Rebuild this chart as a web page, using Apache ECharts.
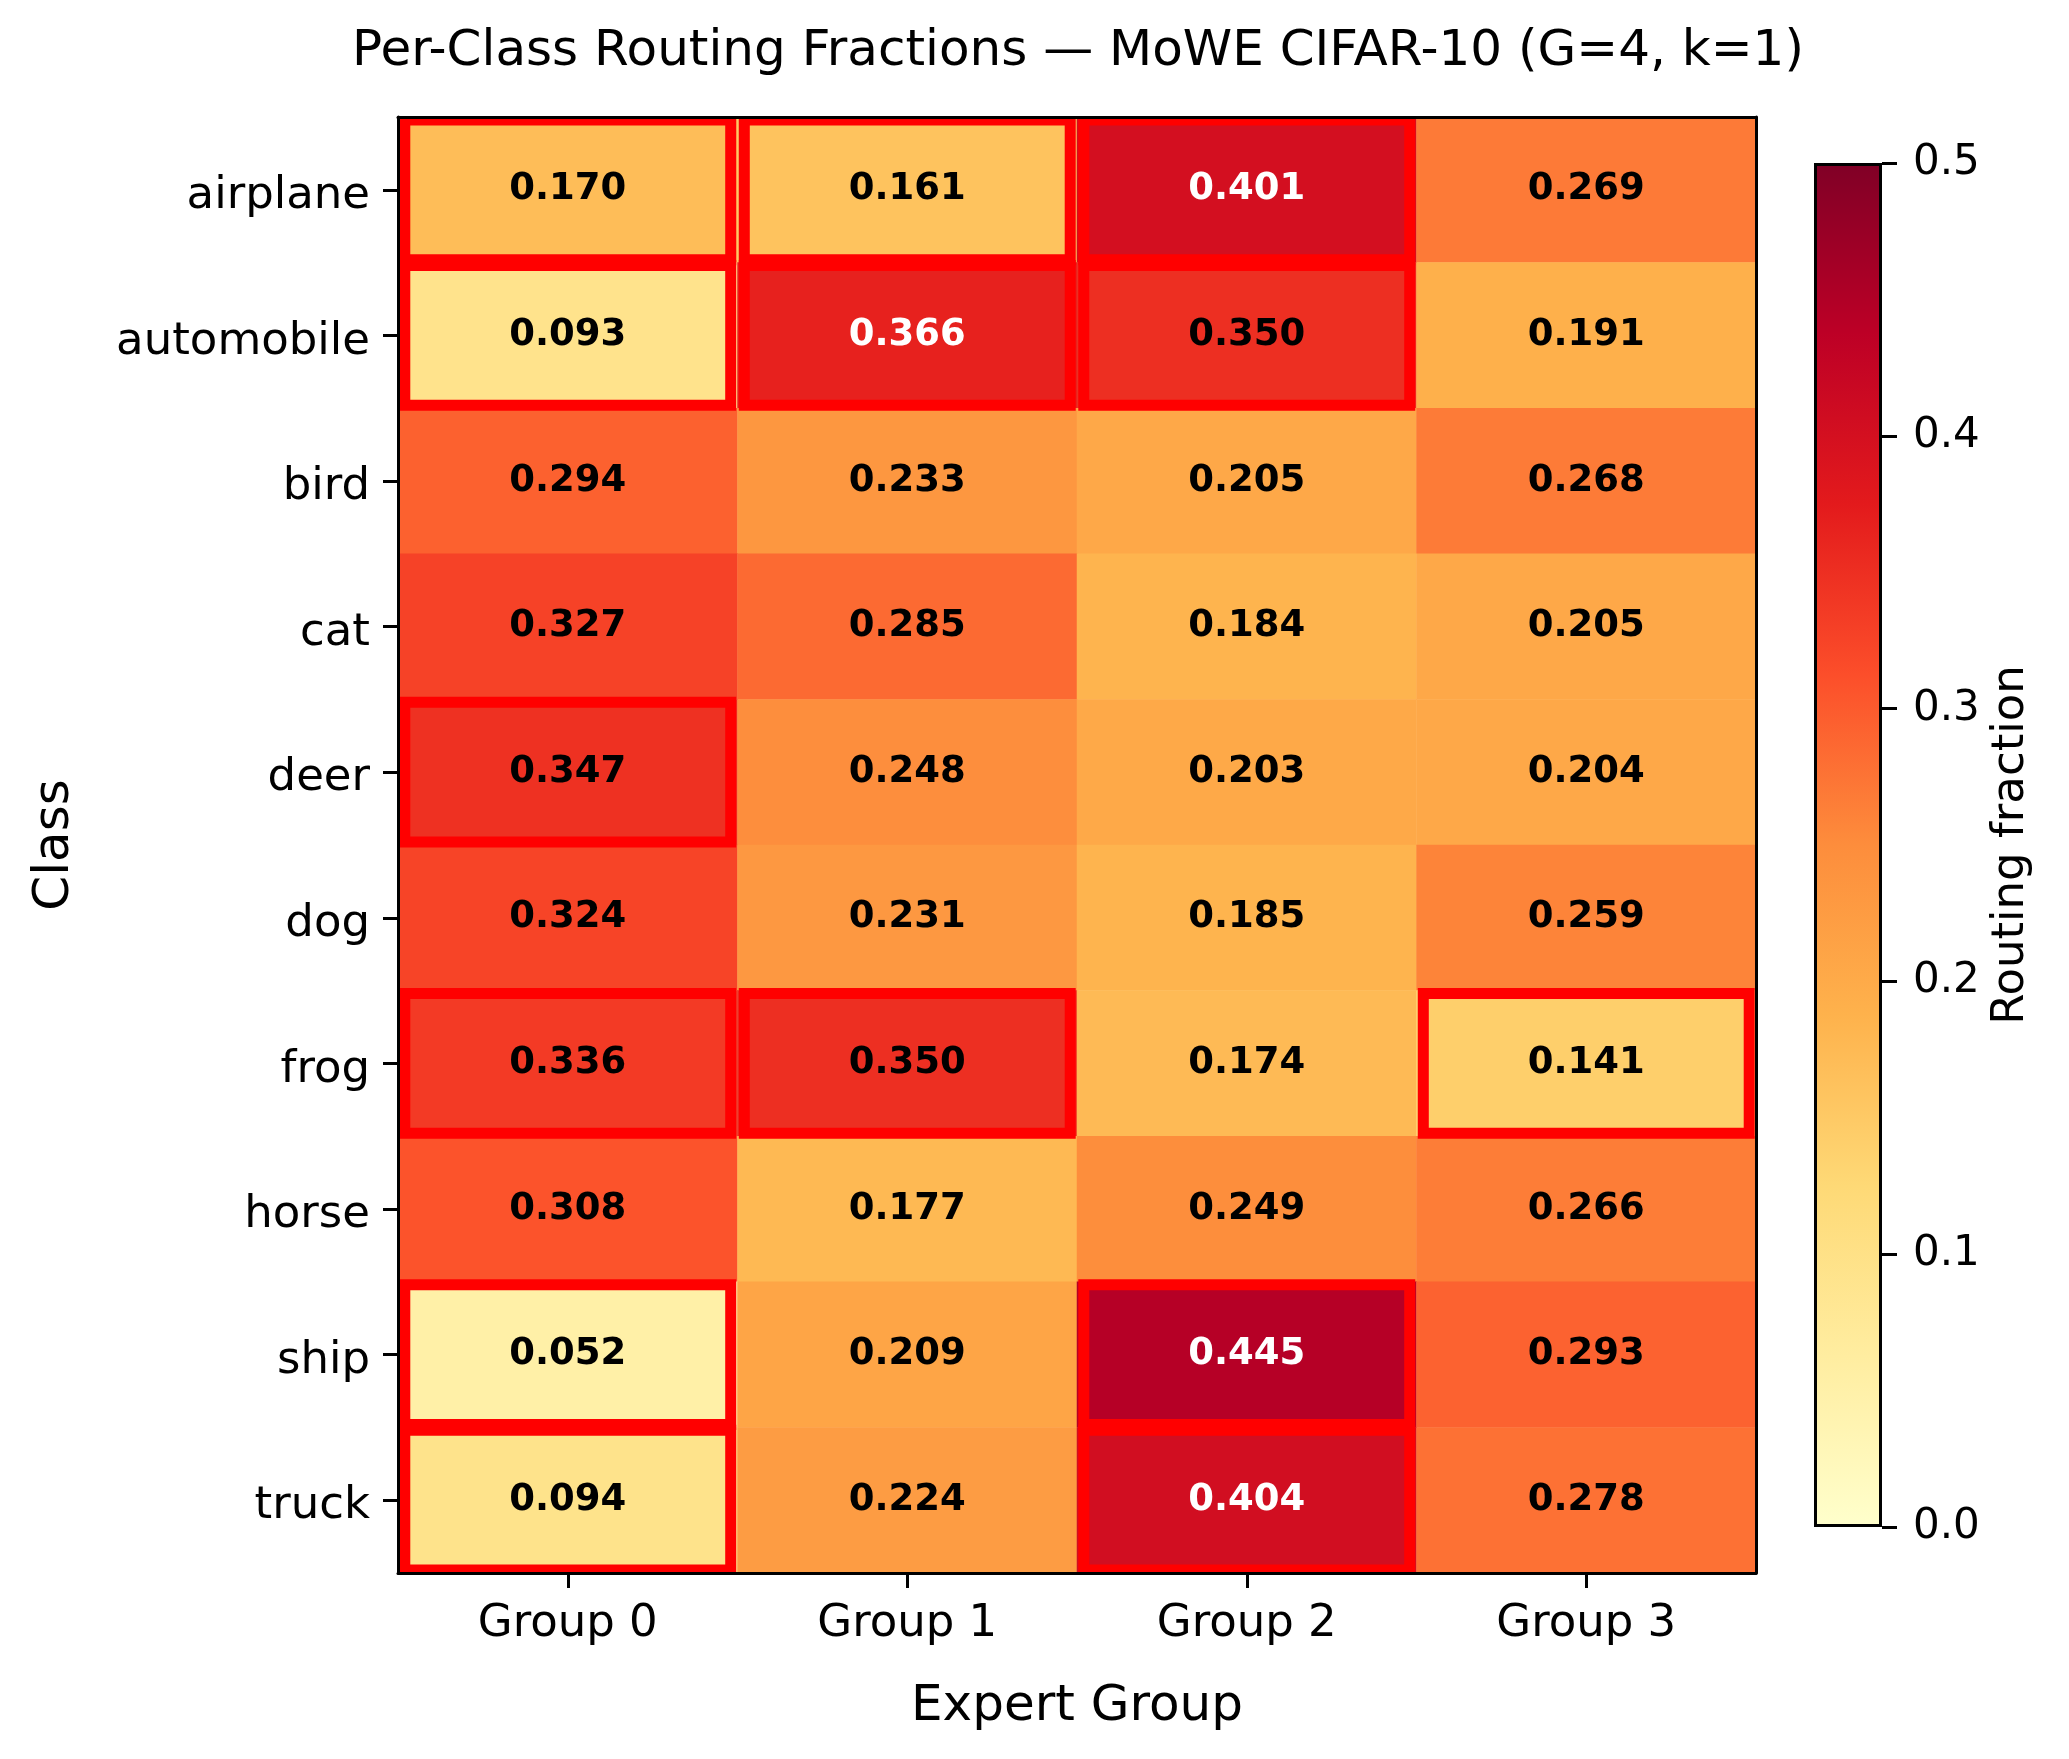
<!DOCTYPE html>
<html>
<head>
<meta charset="utf-8">
<title>Per-Class Routing Fractions</title>
<script src="https://cdn.jsdelivr.net/npm/echarts@6/dist/echarts.min.js"></script>
<style>
	html, body { margin: 0; padding: 0; background: #ffffff; }
	#chart { width: 2069px; height: 1759px; }
</style>
</head>
<body>
<div id="chart"></div>
<script>
// 类别与专家组
var classes = ['airplane', 'automobile', 'bird', 'cat', 'deer', 'dog', 'frog', 'horse', 'ship', 'truck'];
var groups = ['Group 0', 'Group 1', 'Group 2', 'Group 3'];

// 每个类别的路由比例 (Group 0..3)
var airplane = [0.170, 0.161, 0.401, 0.269];
var automobile = [0.093, 0.366, 0.350, 0.191];
var bird = [0.294, 0.233, 0.205, 0.268];
var cat = [0.327, 0.285, 0.184, 0.205];
var deer = [0.347, 0.248, 0.203, 0.204];
var dog = [0.324, 0.231, 0.185, 0.259];
var frog = [0.336, 0.350, 0.174, 0.141];
var horse = [0.308, 0.177, 0.249, 0.266];
var ship = [0.052, 0.209, 0.445, 0.293];
var truck = [0.094, 0.224, 0.404, 0.278];
var rows = [airplane, automobile, bird, cat, deer, dog, frog, horse, ship, truck];

// 红框标出的单元格 [group, class]
var highlighted = [
	[0, 0], [1, 0], [2, 0],
	[0, 1], [1, 1], [2, 1],
	[0, 4],
	[0, 6], [1, 6], [3, 6],
	[0, 8], [2, 8],
	[0, 9], [2, 9]
];

// 色条刻度
var cbarMin = 0;
var cbarMax = 0.5;
var cbarStep = 0.1;

// YlOrRd
var ylOrRd = ['#ffffcc', '#ffeda0', '#fed976', '#feb24c', '#fd8d3c', '#fc4e2a', '#e31a1c', '#bd0026', '#800026'];

var font = 'DejaVu Sans';

var heatData = [];
for (var i = 0; i < rows.length; i++) {
	for (var j = 0; j < groups.length; j++) {
		var v = rows[i][j];
		heatData.push({
			value : [j, i, v],
			label : { color : v > 0.36 ? '#ffffff' : '#000000' }
		});
	}
}

var stops = [];
for (var k = 0; k < ylOrRd.length; k++) {
	stops.push({ offset : k / (ylOrRd.length - 1), color : ylOrRd[ylOrRd.length - 1 - k] });
}

var spine = { show : true, lineStyle : { color : '#000000', width : 3 } };
var tick = { show : true, length : 15, alignWithLabel : true, lineStyle : { color : '#000000', width : 3 } };

var obj = echarts.init(document.getElementById('chart'));
var option = {
	animation : false,
	backgroundColor : '#ffffff',
	textStyle : { fontFamily : font },
	title : {
		text : 'Per-Class Routing Fractions \u2014 MoWE CIFAR-10 (G=4, k=1)',
		left : 1073,
		textAlign : 'center',
		top : 22,
		textStyle : { fontFamily : font, fontSize : 50, fontWeight : 'normal', color : '#000000' }
	},
	grid : [
		{ left : 398, top : 117, width : 1358, height : 1456 },
		{ left : 1814, top : 163, width : 68, height : 1364 }
	],
	xAxis : [
		{
			type : 'category', gridIndex : 0, data : groups, position : 'bottom', z : 5,
			axisLine : spine, axisTick : tick,
			axisLabel : { fontFamily : font, fontSize : 45, color : '#000000', margin : 29 },
			splitLine : { show : false },
			name : 'Expert Group', nameLocation : 'middle', nameGap : 109,
			nameTextStyle : { fontFamily : font, fontSize : 50, color : '#000000' }
		},
		{
			type : 'category', gridIndex : 1, data : [''], show : false
		},
		{
			type : 'category', gridIndex : 0, data : groups, position : 'top', z : 5,
			axisLine : spine, axisTick : { show : false }, axisLabel : { show : false }
		}
	],
	yAxis : [
		{
			type : 'category', gridIndex : 0, data : classes, inverse : true, position : 'left', z : 5,
			axisLine : spine, axisTick : tick,
			axisLabel : {
				fontFamily : font, fontSize : 45, color : '#000000', margin : 28,
				formatter : function(v) { return '{a|' + v + '}'; },
				rich : { a : { fontFamily : font, fontSize : 45, color : '#000000', padding : [13, 0, 0, 0] } }
			},
			name : 'Class', nameLocation : 'middle', nameGap : 318, nameRotate : 90,
			nameTextStyle : { fontFamily : font, fontSize : 50, color : '#000000' }
		},
		{
			type : 'value', gridIndex : 1, position : 'right', min : cbarMin, max : cbarMax, interval : cbarStep,
			axisLine : { show : false },
			axisTick : { show : true, length : 15, lineStyle : { color : '#000000', width : 3 } },
			axisLabel : {
				fontFamily : font, fontSize : 42, color : '#000000', margin : 31,
				formatter : function(v) { return v.toFixed(1); }
			},
			splitLine : { show : false },
			name : 'Routing fraction', nameLocation : 'middle', nameGap : 107, nameRotate : 90,
			nameTextStyle : { fontFamily : font, fontSize : 45, color : '#000000' }
		},
		{
			type : 'category', gridIndex : 0, data : classes, inverse : true, position : 'right', z : 5,
			axisLine : spine, axisTick : { show : false }, axisLabel : { show : false }
		}
	],
	visualMap : {
		show : false,
		type : 'continuous',
		seriesIndex : 0,
		dimension : 2,
		min : cbarMin,
		max : cbarMax,
		inRange : { color : ylOrRd }
	},
	series : [
		{
			type : 'heatmap',
			xAxisIndex : 0,
			yAxisIndex : 0,
			data : heatData,
			label : {
				show : true,
				fontFamily : font,
				fontSize : 37,
				fontWeight : 'bold',
				formatter : function(p) { return p.value[2].toFixed(3); }
			},
			emphasis : { disabled : true }
		},
		{
			type : 'custom',
			xAxisIndex : 0,
			yAxisIndex : 0,
			clip : true,
			z : 3,
			data : highlighted,
			renderItem : function(params, api) {
				var c = api.coord([api.value(0), api.value(1)]);
				var s = api.size([1, 1]);
				var ix = s[0] * 0.02;
				var iy = s[1] * 0.02;
				return {
					type : 'rect',
					shape : { x : c[0] - s[0] / 2 + ix, y : c[1] - s[1] / 2 + iy, width : s[0] - 2 * ix, height : s[1] - 2 * iy },
					style : { fill : 'none', stroke : '#ff0000', lineWidth : 11 }
				};
			}
		},
		{
			type : 'bar',
			xAxisIndex : 1,
			yAxisIndex : 1,
			data : [cbarMax],
			barWidth : '100%',
			silent : true,
			itemStyle : {
				color : { type : 'linear', x : 0, y : 0, x2 : 0, y2 : 1, colorStops : stops },
				borderColor : '#000000',
				borderWidth : 3
			}
		}
	]
};
obj.setOption(option);
</script>
</body>
</html>
